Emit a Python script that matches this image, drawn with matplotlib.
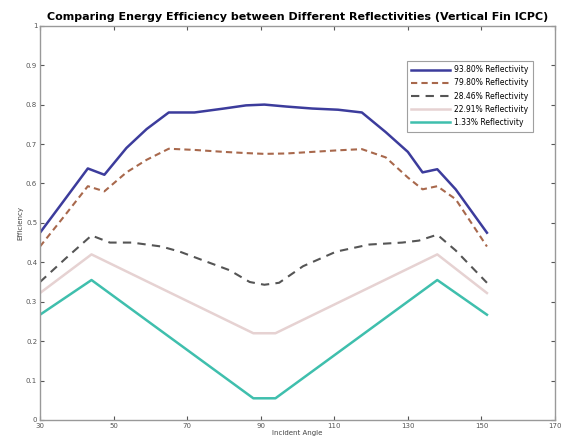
import matplotlib
matplotlib.use('Agg')
import matplotlib.pyplot as plt

# incident angle (deg) and efficiency for each reflectivity
angle_hi = [30, 36, 43, 47.5, 53.5, 59, 65, 72, 80, 86, 91, 97, 104, 111, 117.5, 124, 130, 134, 138, 143, 151.5]
eff_938 = [0.475, 0.55, 0.638, 0.622, 0.69, 0.738, 0.78, 0.78, 0.79, 0.798, 0.80, 0.795, 0.79, 0.787, 0.78, 0.73, 0.68, 0.628, 0.636, 0.585, 0.475]
eff_798 = [0.44, 0.51, 0.593, 0.58, 0.628, 0.66, 0.688, 0.685, 0.68, 0.677, 0.675, 0.676, 0.68, 0.684, 0.687, 0.666, 0.615, 0.585, 0.593, 0.56, 0.44]

angle_lo = [30, 37, 44, 49, 55, 63, 68, 74, 81.5, 87, 91, 95, 101.5, 110.5, 119.5, 128.5, 133, 138, 143, 151.5]
eff_268 = [0.35, 0.41, 0.468, 0.45, 0.45, 0.44, 0.427, 0.406, 0.38, 0.35, 0.343, 0.348, 0.39, 0.427, 0.445, 0.45, 0.455, 0.47, 0.43, 0.348]

angle_v = [30, 44, 88, 94, 138, 151.5]
eff_229 = [0.322, 0.42, 0.22, 0.22, 0.42, 0.322]
eff_133 = [0.267, 0.355, 0.055, 0.055, 0.355, 0.267]

labels = ['93.80% Reflectivity', '79.80% Reflectivity', '28.46% Reflectivity',
          '22.91% Reflectivity', '1.33% Reflectivity']

fig = plt.figure(figsize=(5.61, 4.40), dpi=100)
ax = fig.add_axes([0.0713, 0.0455, 0.918, 0.896])

ax.plot(angle_hi, eff_938, color='#3c3c9c', lw=1.8, label=labels[0])
ax.plot(angle_hi, eff_798, color='#a8684c', lw=1.5, ls='--', dashes=(3, 2), label=labels[1])
ax.plot(angle_lo, eff_268, color='#555555', lw=1.5, ls='--', dashes=(4, 3), label=labels[2])
ax.plot(angle_v, eff_229, color='#e6d2d2', lw=1.8, label=labels[3])
ax.plot(angle_v, eff_133, color='#3fbfad', lw=1.8, label=labels[4])

ax.set_xlim(30, 170)
ax.set_ylim(0, 1)
ax.set_xticks(range(30, 171, 20))
ax.set_yticks([i / 10 for i in range(11)])
ax.set_yticklabels(['0', '0.1', '0.2', '0.3', '0.4', '0.5', '0.6', '0.7', '0.8', '0.9', '1'])
ax.tick_params(direction='in', labelsize=5, length=3, top=True, right=True,
               colors='#555555', pad=2)
for s in ax.spines.values():
    s.set_color('#999999')
    s.set_linewidth(1.0)

ax.set_title('Comparing Energy Efficiency between Different Reflectivities (Vertical Fin ICPC)',
             fontsize=8, fontweight='bold', pad=4)
ax.set_xlabel('Incident Angle', fontsize=5, labelpad=1, color='#444444')
ax.set_ylabel('Efficiency', fontsize=5, labelpad=2, color='#444444')

leg = ax.legend(loc='upper right', bbox_to_anchor=(0.965, 0.921), fontsize=5.5,
                frameon=True, fancybox=False, edgecolor='#888888',
                handlelength=5, handletextpad=0.6, borderpad=0.6, labelspacing=0.55)
leg.get_frame().set_linewidth(0.8)

fig.savefig('out.png', dpi=100)
